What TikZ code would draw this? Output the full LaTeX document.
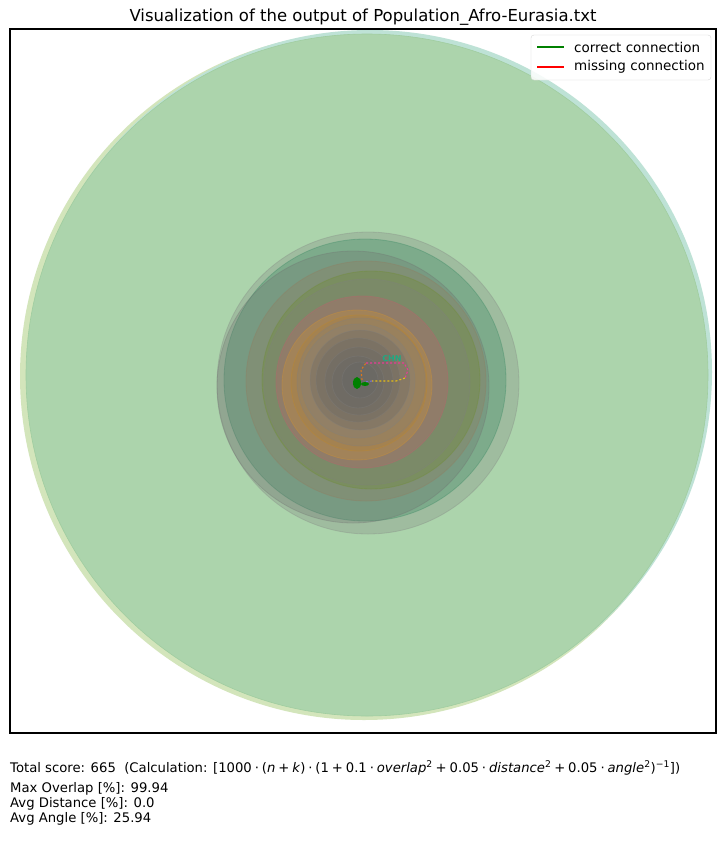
\documentclass[tikz,border=0pt]{standalone}
\usepackage{fontspec}
\setmainfont{DejaVu Sans}
\newcommand{\opgap}{\kern2.9pt}
\begin{document}
\begin{tikzpicture}[x=1pt,y=-1pt,
  ring/.style={draw opacity=0.3,fill opacity=0.28,line width=0.8},
  legline/.style={line width=1.4pt},
  legtext/.style={anchor=west,font=\fontsize{13.5}{14}\selectfont,inner sep=0pt},
  infotext/.style={anchor=base west,font=\fontsize{13.2}{14}\selectfont,inner sep=0pt}]
\useasboundingbox (0,0) rectangle (725,849);
\fill[white] (0,0) rectangle (725,849);
% large discs
\begin{scope}
\clip (10,29) rectangle (716,733);
\fill[fill={rgb,255:red,211;green,229;blue,187}] (364,376) circle (344);
\fill[fill={rgb,255:red,190;green,226;blue,214}] (370,372) circle (342);
\fill[fill={rgb,255:red,172;green,212;blue,172}] (367,375) circle (341);
\draw[draw={rgb,255:red,160;green,205;blue,160},line width=0.6] (367,375) circle (341);
% mid discs
\filldraw[ring,fill=gray,draw=gray] (368,383) circle (151);
\filldraw[ring,fill={rgb,255:red,40;green,130;blue,90},draw={rgb,255:red,40;green,130;blue,90}] (365,380) circle (141);
\filldraw[ring,fill={rgb,255:red,110;green,110;blue,110},draw={rgb,255:red,110;green,110;blue,110}] (353,387) circle (136);
\filldraw[ring,fill={rgb,255:red,150;green,120;blue,90},draw={rgb,255:red,150;green,120;blue,90}] (366,381) circle (120);
\filldraw[ring,fill={rgb,255:red,110;green,140;blue,40},draw={rgb,255:red,110;green,140;blue,40}] (371,380) circle (109);
\filldraw[ring,fill=gray,draw=gray] (367,382) circle (103);
\filldraw[ring,fill={rgb,255:red,200;green,90;blue,110},draw={rgb,255:red,200;green,90;blue,110}] (362,382) circle (86);
\filldraw[ring,fill={rgb,255:red,210;green,150;blue,50},draw={rgb,255:red,220;green,150;blue,40}] (357,385) circle (75);
\filldraw[ring,fill={rgb,255:red,170;green,130;blue,60},draw={rgb,255:red,200;green,140;blue,30}] (359,383) circle (68);
\filldraw[ring,fill=gray,draw=gray] (361,382) circle (64);
\filldraw[ring,fill=gray,draw=gray] (358,381) circle (57);
\filldraw[ring,fill={rgb,255:red,100;green,100;blue,100},draw=gray] (360,380) circle (50);
\filldraw[ring,fill={rgb,255:red,100;green,100;blue,100},draw=gray] (358,380) circle (42);
\filldraw[ring,fill={rgb,255:red,100;green,100;blue,100},draw=gray] (359,381) circle (34);
\filldraw[ring,fill={rgb,255:red,100;green,100;blue,100},draw=gray] (358,382) circle (26);
\filldraw[ring,fill={rgb,255:red,100;green,100;blue,100},draw=gray] (360,380) circle (18);
% central marks
\draw[dash pattern=on 2pt off 2pt,line width=1.1,draw={rgb,255:red,230;green,60;blue,150}]
  (366,363) -- (404,363) -- (408,370) -- (405,378);
\draw[dash pattern=on 2pt off 2pt,line width=1.1,draw={rgb,255:red,230;green,190;blue,20}]
  (405,378) -- (396,381) -- (372,381);
\draw[dash pattern=on 2pt off 2pt,line width=1.1,draw={rgb,255:red,120;green,110;blue,210}]
  (372,381) -- (364,382);
\draw[dash pattern=on 2pt off 2pt,line width=1.1,draw={rgb,255:red,220;green,120;blue,30}]
  (362,380) -- (361,370) -- (366,363);
\node[font=\fontsize{8}{8}\selectfont\bfseries,text={rgb,255:red,30;green,170;blue,130},inner sep=0pt] (chn) at (392,359) {CHN};
\fill[fill={rgb,255:red,0;green,128;blue,0}] (357,383) ellipse (4 and 6);
\fill[fill={rgb,255:red,0;green,128;blue,0}] (365,384) ellipse (4 and 2);
\end{scope}
% axes frame
\draw[line width=1.1] (10,29) rectangle (716,733);
% title
\node[font=\fontsize{16.5}{17}\selectfont,inner sep=0pt] (title) at (363,17) {Visualization of the output of Population\_Afro-Eurasia.txt};
% legend
\draw[rounded corners=3,draw={rgb,255:red,215;green,215;blue,215},fill=white,fill opacity=0.85] (531,35) rectangle (711,80);
\coordinate (g1) at (537,47); \coordinate (g2) at (564,47);
\coordinate (r1) at (537,67); \coordinate (r2) at (564,67);
\draw[legline,draw={rgb,255:red,0;green,128;blue,0}] (g1) -- (g2);
\draw[legline,draw=red] (r1) -- (r2);
\node[legtext] (lt1) at (574,47) {correct connection};
\node[legtext] (lt2) at (574,67) {missing connection};
% info text
\node[infotext] (i1) at (10,772) {Total score: 665\ \ (Calculation: [1000\opgap⋅\opgap(\textit{n}\opgap+\opgap\textit{k})\opgap⋅\opgap(1\opgap+\opgap0.1\opgap⋅\opgap\textit{overlap}\textsuperscript{2}\opgap+\opgap0.05\opgap⋅\opgap\textit{distance}\textsuperscript{2}\opgap+\opgap0.05\opgap⋅\opgap\textit{angle}\textsuperscript{2})\textsuperscript{−1}])};
\node[infotext] (i2) at (10,792) {Max Overlap [\%]: 99.94};
\node[infotext] (i3) at (10,807) {Avg Distance [\%]: 0.0};
\node[infotext] (i4) at (10,822) {Avg Angle [\%]: 25.94};
\end{tikzpicture}
\end{document}
